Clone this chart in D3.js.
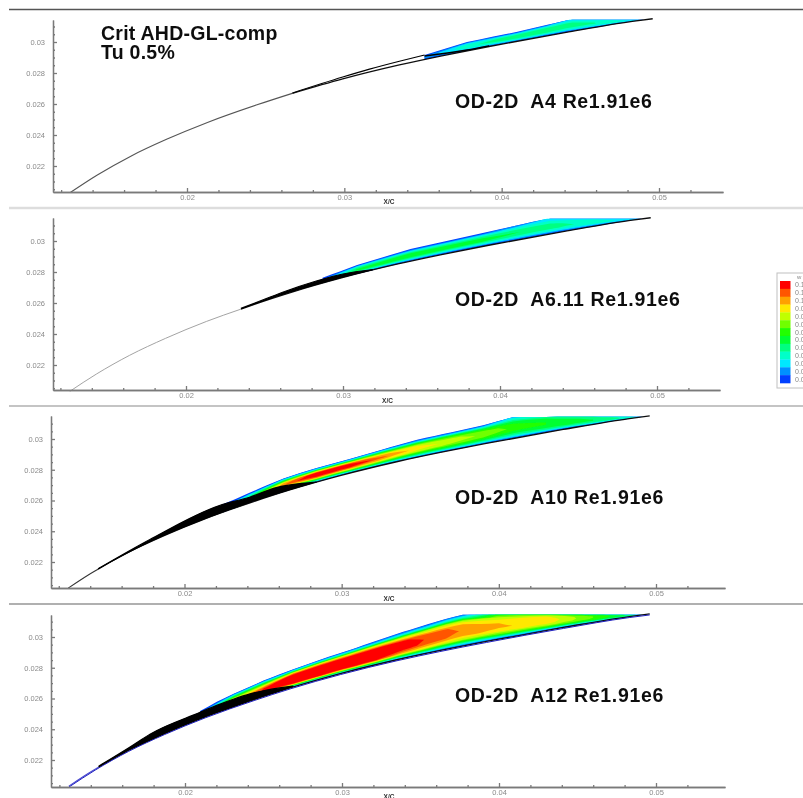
<!DOCTYPE html>
<html><head><meta charset="utf-8">
<script src="https://cdn.jsdelivr.net/npm/d3@7"></script>
<style>html,body{margin:0;background:#fff;overflow:hidden}svg{display:block}text{white-space:pre}</style>
</head><body><svg id="c" width="803" height="798"></svg>
<script>
// ---- data (coordinates are x/c, y/c; field values are hundredths of the legend variable)
const xMajor=[0.02,0.03,0.04,0.05];
const xMinor=[0.012,0.014,0.016,0.018,0.022,0.024,0.026,0.028,0.032,0.034,0.036,0.038,0.042,0.044,0.046,0.048,0.052];
const yMajor=[0.022,0.024,0.026,0.028,0.03];
const yMinor=[0.0205,0.021,0.0215,0.0225,0.023,0.0235,0.0245,0.025,0.0255,0.0265,0.027,0.0275,0.0285,0.029,0.0295,0.0305,0.031];
const legendLabels=["0.12","0.11","0.10","0.09","0.08","0.07","0.06","0.05","0.04","0.03","0.02","0.01","0.00"];
const legendColors=["#ff0000","#ff5500","#ffa000","#ffe800","#c0ff00","#70ff00","#20ff00","#00ff30","#00ff80","#00ffc8","#00e8ff","#0090ff","#0040ff"];
const surfaceX=[0.0126,0.0143,0.0164,0.0187,0.0213,0.0244,0.0267,0.0299,0.0335,0.0362,0.0392,0.0441,0.0483,0.0496];
const surfaceY=[0.0203,0.02142,0.02262,0.02372,0.02481,0.02593,0.02669,0.02762,0.02852,0.02911,0.02971,0.03062,0.03133,0.0315];
const fractions=[0,0.1,0.2,0.35,0.5,0.65,0.8,0.9,1];
const topLimit=0.03144;

const upperXA4=[0.03511,0.03778,0.04095,0.04286,0.04451,0.0496];
const upperYA4=[0.02916,0.0300,0.03065,0.0311,0.03148,0.03148];
const stationsA4=[0.0351,0.0378,0.041,0.0429,0.0445,0.047,0.0485,0.0496];
const fieldA4=[
[0,0.6,1,1.2,1.2,1.2,1,0.6,0],
[0,1.2,2.5,3.5,3.8,3.5,2.5,1.2,0],
[0,1.5,3,4.3,4.8,4.4,3,1.5,0],
[0,1.5,3,4.4,4.8,4.5,3.5,2,0.5],
[0,1.5,3,4,4.6,4.5,3.8,3,2.5],
[0,1,2,3,3.6,3.6,3.3,3,2.8],
[0,0.8,1.5,2,2.5,2.6,2.5,2.5,2.5],
[0,0,0,0,0,0,0,0,0]];
const meshXA4=[0.0267,0.0299,0.0316,0.0335,0.0351];
const meshYA4=[0.02671,0.02774,0.02825,0.02876,0.02916];
const streakXA4=[0.0351,0.0378,0.0392];
const streakYA4=[0.0291,0.02948,0.02975];

const upperXA6=[0.02866,0.03089,0.03427,0.03892,0.04318,0.0496];
const upperYA6=[0.02761,0.02845,0.02948,0.03052,0.03148,0.03148];
const stationsA6=[0.0287,0.0309,0.0343,0.0389,0.0432,0.046,0.0485,0.0496];
const fieldA6=[
[0,0.3,0.6,0.8,0.8,0.8,0.6,0.3,0],
[0,1.5,3.5,5,5.3,4.5,3,1.2,0],
[0,1.5,3.5,5.3,5.7,5,3,1.2,0],
[0,1.5,3.2,5,5.5,4.8,3,1.4,0],
[0,1.5,3,4.2,4.6,4.2,3.4,2.7,2.2],
[0,1,2,3.1,3.5,3.5,3.2,3,2.6],
[0,0.7,1.5,2,2.5,2.5,2.5,2.5,2.5],
[0,0,0,0,0,0,0,0,0]];
const meshXA6=[0.0235,0.0252,0.0262,0.0283,0.030,0.0319];
const meshYA6=[0.02565,0.02632,0.02671,0.02742,0.02787,0.02816];

const upperXA10=[0.02244,0.02414,0.0252,0.02626,0.02733,0.02839,0.03051,0.03263,0.03476,0.039,0.04091,0.0496];
const upperYA10=[0.02574,0.0265,0.02697,0.02742,0.02778,0.02811,0.02871,0.02933,0.02994,0.0309,0.03142,0.03148];
const stationsA10=[0.0224,0.0241,0.0263,0.0284,0.0305,0.0325,0.0348,0.037,0.039,0.0409,0.043,0.046,0.0485,0.0496];
const fieldA10=[
[0,0.3,0.5,0.8,0.8,0.8,0.5,0.3,0],
[0,1,2,3.5,4,4,3,1,0],
[0,2,4,8,11,10,6,3,0.5],
[0,3,6,11.5,13.5,12.8,7.5,3,0.5],
[0,3,6.5,11,13.5,12,7,3,0.5],
[0,3,6,9.8,11.4,10.3,6.5,3,0.5],
[0,3,5.5,8.5,9.6,9,6,2.5,0.3],
[0,3,5.5,7.8,8.6,8.2,6,2.5,0.3],
[0,3,5,7,7.8,7.5,5.5,2.5,0.3],
[0,2.5,4.5,6,6.8,6.5,5,3.5,2.5],
[0,2,4,5.5,6,6,5.5,5,4],
[0,1.5,3,4.5,5,5,4.8,4.5,4],
[0,1,2,3,3.5,3.5,3.5,3.5,3],
[0,0,0,0,0,0,0,0,0]];
const meshXA10=[0.0145,0.01777,0.0224,0.02414,0.02584,0.02754,0.0284];
const meshYA10=[0.02156,0.02345,0.02574,0.02621,0.02684,0.02712,0.0272];

const upperXA12=[0.02096,0.02202,0.02308,0.02499,0.0269,0.0287,0.03051,0.03221,0.03391,0.03645,0.03773,0.0496];
const upperYA12=[0.02518,0.02578,0.0263,0.02716,0.02791,0.02856,0.02916,0.02976,0.03034,0.03114,0.03146,0.03148];
const stationsA12=[0.02096,0.0231,0.025,0.0269,0.0287,0.0305,0.0322,0.0339,0.0355,0.0377,0.040,0.043,0.046,0.0485,0.0496];
const fieldA12=[
[0,0.3,0.5,0.8,0.8,0.8,0.6,0.3,0],
[0,3,5,8,9,8,5,2.5,0.5],
[0,4,8,12.5,12,9.5,6,3,0.5],
[0,6,12,14,14,13.8,9,3.5,0.5],
[0,6,12.5,14,14,13.8,9,3.5,0.5],
[0,6.5,12.5,14,14,13.5,9,3.5,0.5],
[0,6.5,12,14,14,13.2,8.5,3,0.5],
[0,5.5,10,12.6,13,12.2,8,3,0.5],
[0,5,9.2,11.5,11.8,11.4,8,3,0.5],
[0,4,8,10.5,10.9,10.7,8.5,4,1],
[0,3.5,7,9.5,10.2,10,9,8,6.5],
[0,3,6,8.5,9.5,9.8,9.5,9,7.5],
[0,2,4,6,6.8,7,7,6.5,5.5],
[0,1.5,3,4,4.5,4.5,4.5,4,3.5],
[0,0,0,0,0,0,0,0,0]];
const meshXA12=[0.0145,0.0165,0.01777,0.02096,0.02202,0.02308,0.02414,0.0252,0.0269];
const meshYA12=[0.0216,0.02285,0.02368,0.0251,0.02555,0.02595,0.0263,0.02655,0.0268];

const titleLines=["Crit AHD-GL-comp","Tu 0.5%"];
const caseLabels=["OD-2D  A4 Re1.91e6","OD-2D  A6.11 Re1.91e6","OD-2D  A10 Re1.91e6","OD-2D  A12 Re1.91e6"];

// ---- layout
const panels=[
 {x02:187,x05:659,y22:166,y03:42,left:53,right:723,bottom:192,top:20,labelY:108,xcY:204,
  upperX:upperXA4,upperY:upperYA4,st:stationsA4,field:fieldA4,meshX:meshXA4,meshY:meshYA4,meshFill:false,streakX:streakXA4,streakY:streakYA4,grayBelow:0.0267,gray:"#555",grayW:1.1,surf:"#111"},
 {x02:186,x05:657,y22:365,y03:241,left:53,right:720,bottom:390,top:218,labelY:306,xcY:403,
  upperX:upperXA6,upperY:upperYA6,st:stationsA6,field:fieldA6,meshX:meshXA6,meshY:meshYA6,meshFill:true,grayBelow:0.0235,gray:"#999",grayW:0.9,surf:"#111"},
 {x02:184.5,x05:656,y22:562,y03:439,left:51,right:725,bottom:588,top:416,labelY:504,xcY:601,
  upperX:upperXA10,upperY:upperYA10,st:stationsA10,field:fieldA10,meshX:meshXA10,meshY:meshYA10,meshFill:true,grayBelow:0.0145,gray:"#333",grayW:1.1,surf:"#111"},
 {x02:185,x05:656,y22:760,y03:637,left:51,right:725,bottom:787,top:615,labelY:702,xcY:799,
  upperX:upperXA12,upperY:upperYA12,st:stationsA12,field:fieldA12,meshX:meshXA12,meshY:meshYA12,meshFill:true,grayBelow:0.0145,gray:"#4a4ad0",grayW:1.1,surf:"#2020c0"}
];
const seps=[{y:9.5,c:"#555",w:1.5},{y:208,c:"#ddd",w:2.5},{y:406,c:"#c4c4c4",w:2},{y:604,c:"#b0b0b0",w:2}];

const svg=d3.select("#c");
const defs=svg.append("defs");
defs.append("filter").attr("id","soft").attr("filterUnits","userSpaceOnUse")
  .attr("x",0).attr("y",0).attr("width",803).attr("height",798)
  .append("feGaussianBlur").attr("stdDeviation",0.6);
const root=svg.append("g").attr("filter","url(#soft)");
root.append("rect").attr("width",803).attr("height",798).attr("fill","#fff");

root.selectAll("line.sep").data(seps).join("line").attr("class","sep")
  .attr("x1",9).attr("x2",803).attr("y1",d=>d.y).attr("y2",d=>d.y)
  .attr("stroke",d=>d.c).attr("stroke-width",d=>d.w);

const levels=d3.range(0,13);
const colorOf=d3.scaleOrdinal(levels,legendColors.slice().reverse());
const tickFont="'Liberation Sans',sans-serif";

panels.forEach((p,i)=>{
  const x0=d3.scaleLinear([0.02,0.05],[p.x02,p.x05]);
  const y0=d3.scaleLinear([0.022,0.03],[p.y22,p.y03]);
  const x=d3.scaleLinear([x0.invert(p.left),x0.invert(p.right)],[p.left,p.right]);
  const y=d3.scaleLinear([y0.invert(p.bottom),y0.invert(p.top)],[p.bottom,p.top]);
  const g=root.append("g");

  // contour bands: grid (fraction across the wedge, station along the chord) warped to x/c,y/c
  const lo=d3.scaleLinear(surfaceX,surfaceY).clamp(true);
  const hi=d3.scaleLinear(p.upperX,p.upperY).clamp(true);
  const rows=p.st.length, cols=fractions.length;
  const stAt=d3.scaleLinear(d3.range(rows),p.st).clamp(true);
  const frAt=d3.scaleLinear(d3.range(cols),fractions).clamp(true);
  const warp=(c)=>{
    const xv=stAt(c[1]-0.5), f=frAt(c[0]-0.5);
    const l=lo(xv), h=Math.max(l,Math.min(hi(xv),topLimit));
    return [x(xv),y(l+f*(h-l))];
  };
  const dense=ring=>{
    const out=[];
    for(let k=0;k<ring.length-1;k++){
      const a=ring[k],b=ring[k+1];
      for(let t=0;t<4;t++) out.push([a[0]+(b[0]-a[0])*t/4,a[1]+(b[1]-a[1])*t/4]);
    }
    return out;
  };
  const contours=d3.contours().size([cols,rows]).smooth(true).thresholds(levels)(p.field.flat());
  const ringLine=d3.line().curve(d3.curveLinearClosed);
  g.selectAll("path.band").data(contours).join("path").attr("class","band")
    .attr("fill",d=>colorOf(d.value)).attr("fill-rule","evenodd")
    .attr("d",d=>d.coordinates.flatMap(poly=>poly.map(r=>ringLine(dense(r).map(warp)))).join(""));

  // airfoil surface
  const pts=d3.zip(surfaceX,surfaceY);
  const sLine=d3.line().x(d=>x(d[0])).y(d=>y(d[1])).curve(d3.curveMonotoneX);
  const split=[...pts.filter(d=>d[0]<p.grayBelow),[p.grayBelow,lo(p.grayBelow)]];
  const rest=[[p.grayBelow,lo(p.grayBelow)],...pts.filter(d=>d[0]>p.grayBelow)];
  g.append("path").attr("d",sLine(split)).attr("fill","none").attr("stroke",p.gray).attr("stroke-width",p.grayW);
  g.append("path").attr("d",sLine(rest)).attr("fill","none").attr("stroke",i===3?"#111":p.surf).attr("stroke-width",1.3);
  if(i===3) g.append("path").attr("d",sLine(pts)).attr("fill","none").attr("stroke",p.surf).attr("stroke-width",1).attr("transform","translate(0,1)");

  // mesh lines near the wall
  const mesh=d3.zip(p.meshX,p.meshY);
  if(p.meshFill){
    g.append("path").attr("fill","#000")
      .attr("d",d3.area().x(d=>x(d[0])).y0(d=>y(lo(d[0]))).y1(d=>y(d[1])).curve(d3.curveMonotoneX)(mesh));
  }
  g.append("path").attr("d",sLine(mesh)).attr("fill","none").attr("stroke","#000").attr("stroke-width",1.2);
  if(p.streakX){
    g.append("path").attr("d",sLine(d3.zip(p.streakX,p.streakY))).attr("fill","none").attr("stroke","#000").attr("stroke-width",1.4);
  }

  // axes
  const gx=g.append("g").attr("transform",`translate(0,${p.bottom})`);
  gx.call(d3.axisBottom(x).tickValues(xMajor).tickSize(-4).tickSizeOuter(0).tickPadding(3).tickFormat(String));
  const gxm=g.append("g").attr("transform",`translate(0,${p.bottom})`);
  gxm.call(d3.axisBottom(x).tickValues(xMinor).tickSize(-2).tickSizeOuter(0).tickFormat(""));
  const gy=g.append("g").attr("transform",`translate(${p.left},0)`);
  gy.call(d3.axisLeft(y).tickValues(yMajor).tickSize(-4).tickSizeOuter(0).tickPadding(8).tickFormat(String));
  const gym=g.append("g").attr("transform",`translate(${p.left},0)`);
  gym.call(d3.axisLeft(y).tickValues(yMinor).tickSize(-2).tickSizeOuter(0).tickFormat(""));
  [gx,gxm,gy,gym].forEach(a=>{
    a.selectAll("path.domain,line").attr("stroke","#7a7a7a").attr("stroke-width",1.3);
    a.selectAll("text").attr("fill","#8a8a8a").attr("font-family",tickFont).attr("font-size",7.5);
  });
  g.append("text").attr("x",(p.left+p.right)/2+1).attr("y",p.xcY).attr("text-anchor","middle")
    .attr("font-family",tickFont).attr("font-weight","bold").attr("font-size",6.5).attr("fill","#333").text("X/C");

  g.append("text").attr("x",455).attr("y",p.labelY).attr("font-family",tickFont).attr("font-weight","bold")
    .attr("font-size",19.5).attr("letter-spacing",0.65).attr("fill","#111").text(caseLabels[i]);
});

// title
root.selectAll("text.title").data(titleLines).join("text").attr("class","title")
  .attr("x",101).attr("y",(d,i)=>40+i*19).attr("font-family",tickFont).attr("font-weight","bold")
  .attr("font-size",19.5).attr("letter-spacing",0.25).attr("fill","#111").text(d=>d);

// legend
const lg=root.append("g");
lg.append("rect").attr("x",777).attr("y",273).attr("width",40).attr("height",115).attr("fill","#fff").attr("stroke","#c0c0c0");
const band=d3.scaleBand(d3.range(legendColors.length),[281,383]);
lg.selectAll("rect.sw").data(legendColors).join("rect").attr("class","sw")
  .attr("x",780).attr("width",10.5).attr("y",(d,i)=>band(i)).attr("height",band.bandwidth()+0.3).attr("fill",d=>d);
lg.selectAll("text.lab").data(legendLabels).join("text").attr("class","lab")
  .attr("x",795).attr("y",(d,i)=>band(i)+band.bandwidth()/2+2.5).attr("font-family",tickFont).attr("font-size",7)
  .attr("fill","#888").text(d=>d);
lg.append("text").attr("x",797).attr("y",279).attr("font-family",tickFont).attr("font-size",6).attr("fill","#888").text("w");
</script></body></html>
